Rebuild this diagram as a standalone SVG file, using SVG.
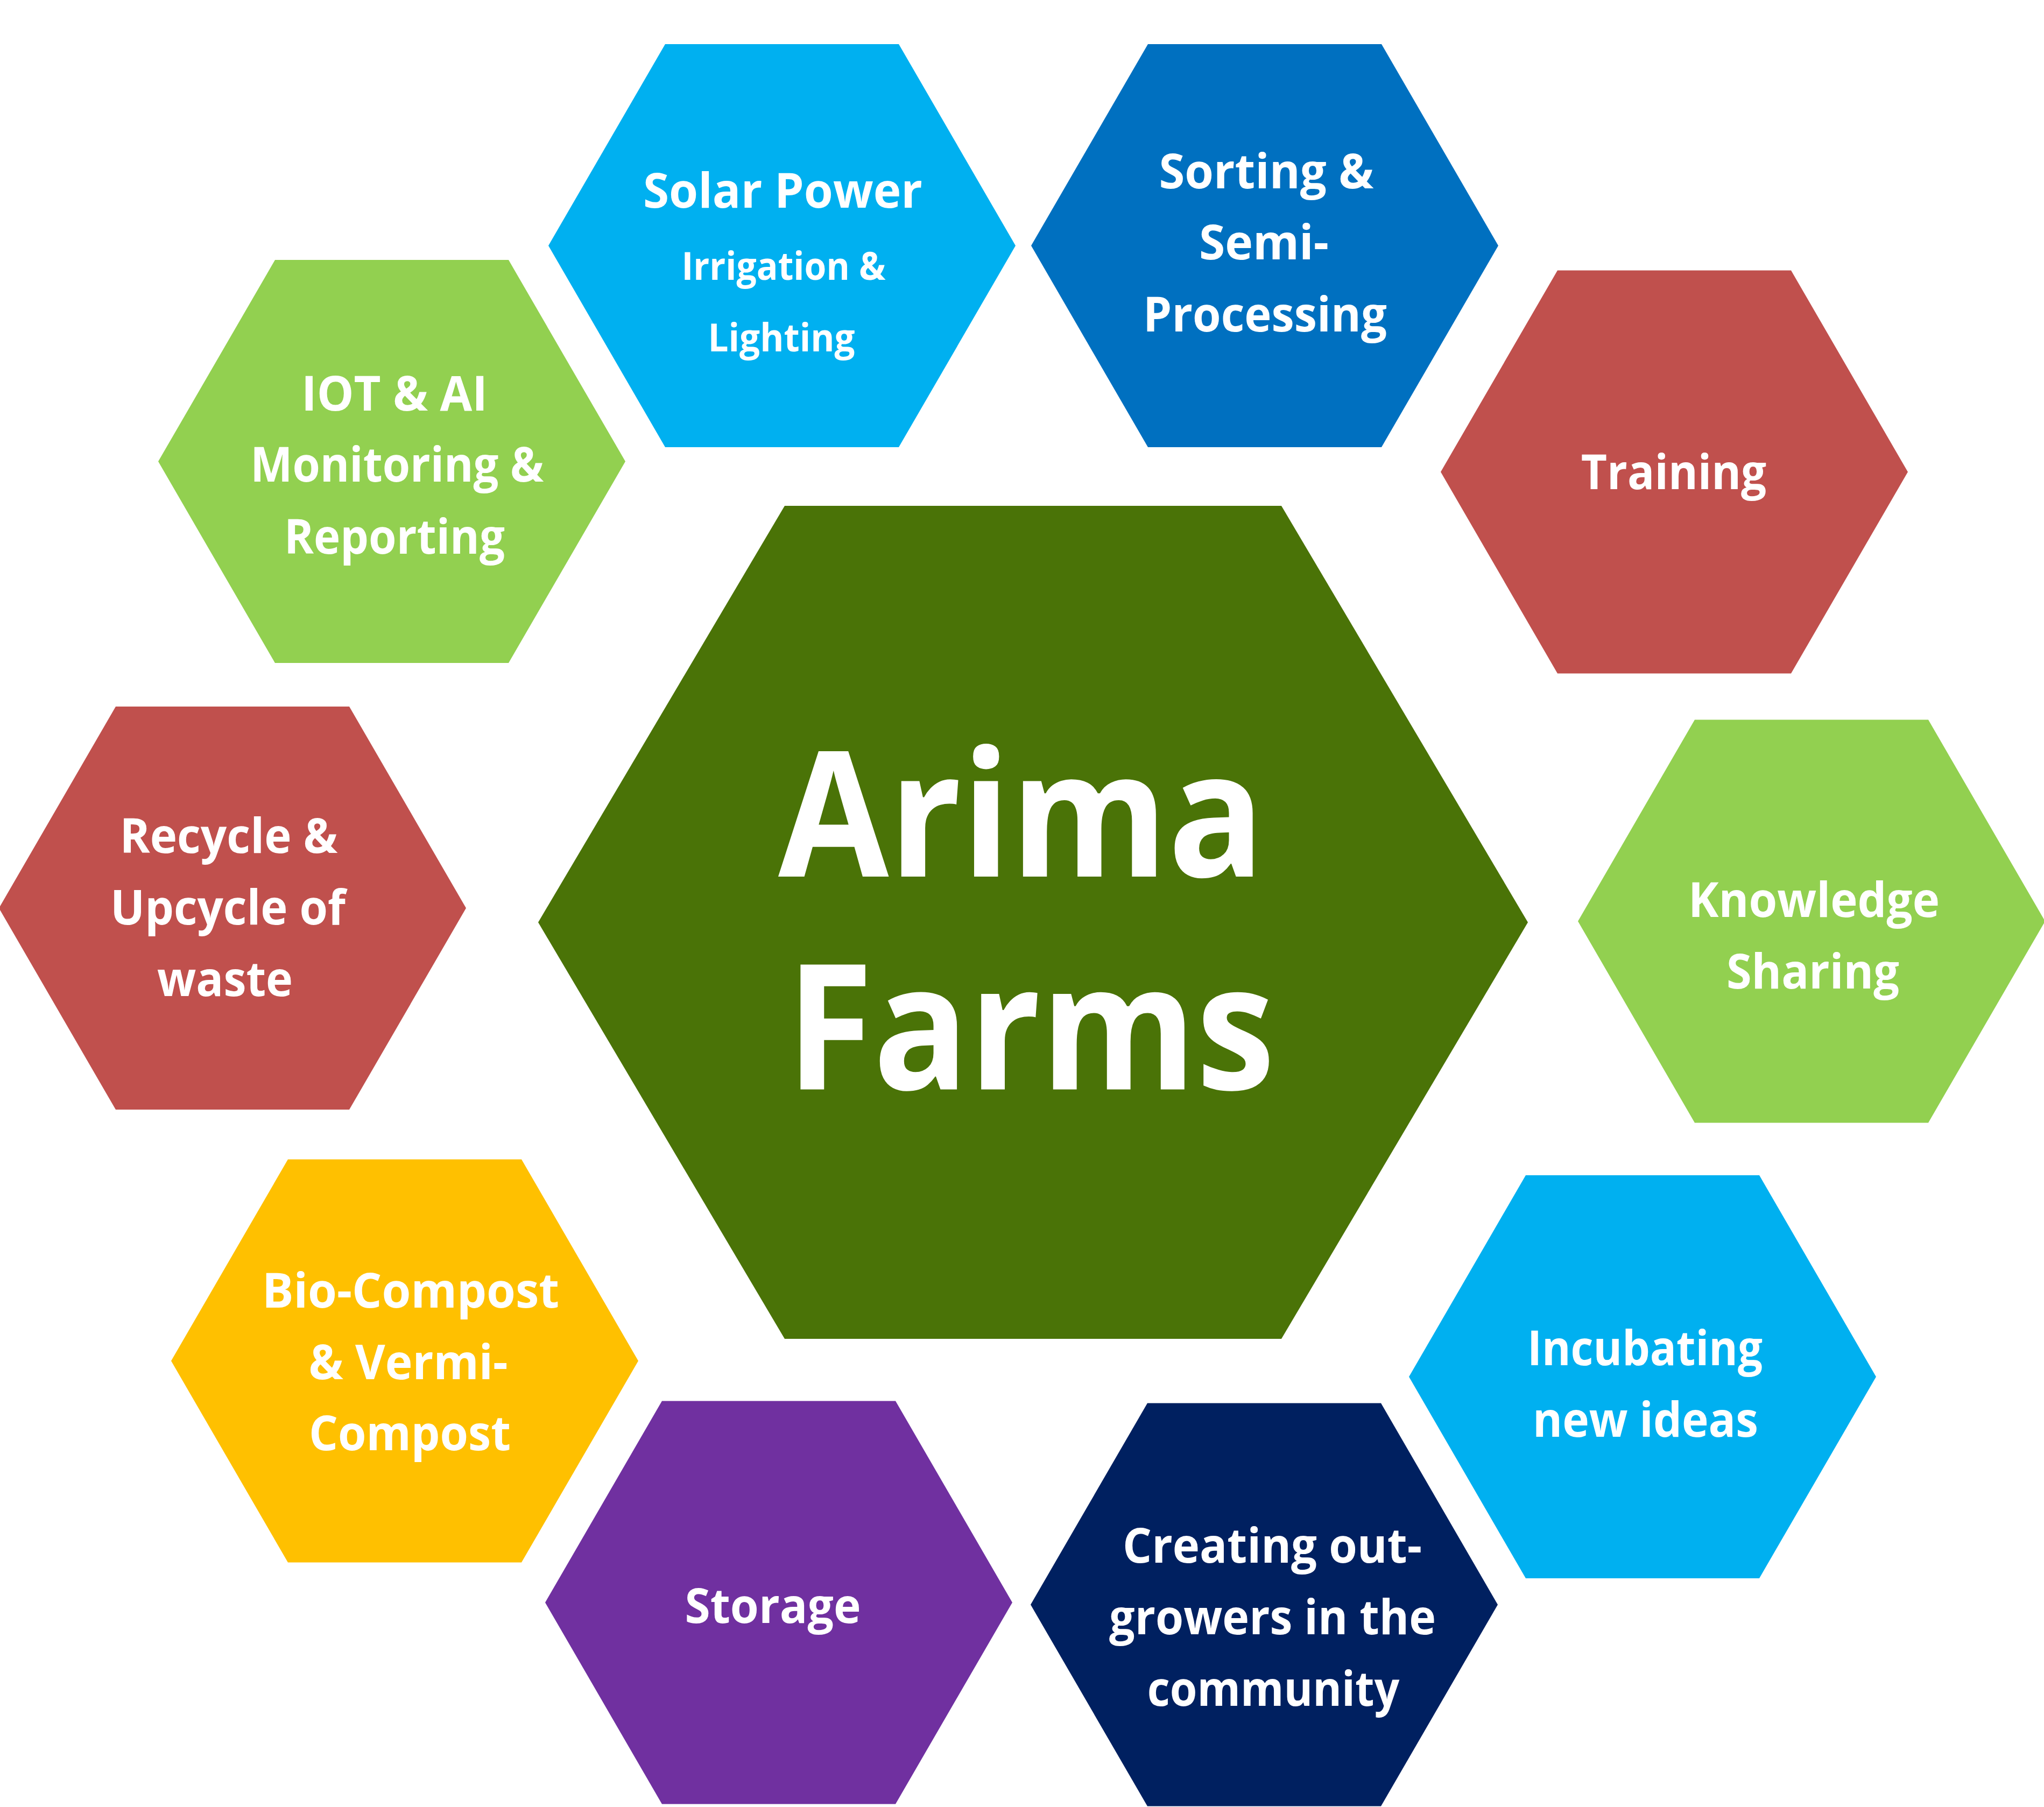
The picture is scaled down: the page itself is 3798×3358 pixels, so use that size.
<svg xmlns="http://www.w3.org/2000/svg" xmlns:xlink="http://www.w3.org/1999/xlink" width="3798" height="3358" viewBox="0 0 3798 3358">
  <style>
    .lbl { font-family: "Open Sans", "Noto Sans", "Liberation Sans", sans-serif; font-weight: 700; fill: #ffffff; text-anchor: middle; font-size: 90px; }
    .sub { font-size: 72px; }
    .big { font-family: "Open Sans", "Liberation Sans", sans-serif; font-weight: 700; font-size: 325px; fill: #ffffff; text-anchor: middle; }
  </style>
  <defs>
    <polygon id="hex" points="-434,0 -217,-374.5 217,-374.5 434,0 217,374.5 -217,374.5"/>
  </defs>
  <rect width="3798" height="3358" fill="#ffffff"/>
  <g id="connectors"/>

  <g id="center">
    <polygon points="1000,1714 1458,940 2381,940 2839,1714 2381,2488 1458,2488" fill="#4A7307"/>
    <text class="big" x="1898" y="1629" textLength="904" lengthAdjust="spacingAndGlyphs">Arima</text>
    <text class="big" x="1915" y="2024.5" textLength="908" lengthAdjust="spacingAndGlyphs">Farms</text>
  </g>

  <g id="solar">
    <use xlink:href="#hex" href="#hex" x="1453" y="456.5" fill="#00B0F0"/>
    <text class="lbl" x="1454.5" y="385.5" textLength="519" lengthAdjust="spacingAndGlyphs">Solar Power</text>
    <text class="lbl sub" x="1456" y="519.6" textLength="379" lengthAdjust="spacingAndGlyphs">Irrigation &amp;</text>
    <text class="lbl sub" x="1452" y="652.5" textLength="273" lengthAdjust="spacingAndGlyphs">Lighting</text>
  </g>

  <g id="sorting">
    <use xlink:href="#hex" href="#hex" x="2350" y="456.5" fill="#0070C0"/>
    <text class="lbl" x="2353" y="350" textLength="399" lengthAdjust="spacingAndGlyphs">Sorting &amp;</text>
    <text class="lbl" x="2348.5" y="482.3" textLength="241" lengthAdjust="spacingAndGlyphs">Semi-</text>
    <text class="lbl" x="2350.5" y="615.6" textLength="453" lengthAdjust="spacingAndGlyphs">Processing</text>
  </g>

  <g id="training">
    <use xlink:href="#hex" href="#hex" x="3111" y="877" fill="#C0504D"/>
    <text class="lbl" x="3110" y="908.6" textLength="344.5" lengthAdjust="spacingAndGlyphs">Training</text>
  </g>

  <g id="knowledge">
    <use xlink:href="#hex" href="#hex" x="3366" y="1712" fill="#92D050"/>
    <text class="lbl" x="3370.5" y="1704" textLength="467" lengthAdjust="spacingAndGlyphs">Knowledge</text>
    <text class="lbl" x="3368.5" y="1836.7" textLength="321" lengthAdjust="spacingAndGlyphs">Sharing</text>
  </g>

  <g id="incubating">
    <use xlink:href="#hex" href="#hex" x="3052" y="2558.5" fill="#00B0F0"/>
    <text class="lbl" x="3056.5" y="2536.8" textLength="437" lengthAdjust="spacingAndGlyphs">Incubating</text>
    <text class="lbl" x="3057.5" y="2669.6" textLength="419" lengthAdjust="spacingAndGlyphs">new ideas</text>
  </g>

  <g id="creating">
    <use xlink:href="#hex" href="#hex" x="2349" y="2982" fill="#002060"/>
    <text class="lbl" x="2364" y="2904" textLength="556" lengthAdjust="spacingAndGlyphs">Creating out-</text>
    <text class="lbl" x="2364.6" y="3037" textLength="607" lengthAdjust="spacingAndGlyphs">growers in the</text>
    <text class="lbl" x="2366" y="3170" textLength="468.5" lengthAdjust="spacingAndGlyphs">community</text>
  </g>

  <g id="storage">
    <use xlink:href="#hex" href="#hex" x="1447" y="2978" fill="#7030A0"/>
    <text class="lbl" x="1436" y="3016" textLength="327" lengthAdjust="spacingAndGlyphs">Storage</text>
  </g>

  <g id="biocompost">
    <use xlink:href="#hex" href="#hex" x="752" y="2529" fill="#FFC000"/>
    <text class="lbl" x="763" y="2429.7" textLength="552" lengthAdjust="spacingAndGlyphs">Bio-Compost</text>
    <text class="lbl" x="758.5" y="2562.5" textLength="370" lengthAdjust="spacingAndGlyphs">&amp; Vermi-</text>
    <text class="lbl" x="761.5" y="2695.3" textLength="375" lengthAdjust="spacingAndGlyphs">Compost</text>
  </g>

  <g id="recycle">
    <use xlink:href="#hex" href="#hex" x="432" y="1687.6" fill="#C0504D"/>
    <text class="lbl" x="425" y="1584.8" textLength="405" lengthAdjust="spacingAndGlyphs">Recycle &amp;</text>
    <text class="lbl" x="423.5" y="1718" textLength="437" lengthAdjust="spacingAndGlyphs">Upcycle of</text>
    <text class="lbl" x="418" y="1850.5" textLength="252" lengthAdjust="spacingAndGlyphs">waste</text>
  </g>

  <g id="iot">
    <use xlink:href="#hex" href="#hex" x="728" y="857.6" fill="#92D050"/>
    <text class="lbl" x="733" y="762.6" textLength="346" lengthAdjust="spacingAndGlyphs">IOT &amp; AI</text>
    <text class="lbl" x="737.7" y="895.4" textLength="545" lengthAdjust="spacingAndGlyphs">Monitoring &amp;</text>
    <text class="lbl" x="733" y="1028.7" textLength="410" lengthAdjust="spacingAndGlyphs">Reporting</text>
  </g>
</svg>
